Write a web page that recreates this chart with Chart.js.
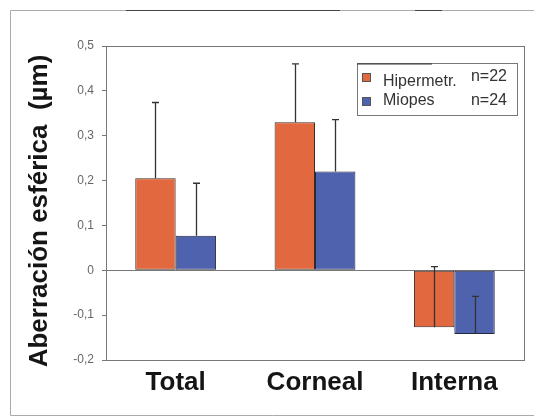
<!DOCTYPE html>
<html>
<head>
<meta charset="utf-8">
<script src="https://cdn.jsdelivr.net/npm/chart.js@4/dist/chart.umd.min.js"></script>
<style>
  html, body { margin: 0; padding: 0; background: #fff; }
  #wrap { width: 534px; height: 417px; position: relative; }
</style>
</head>
<body>
<div id="wrap"><canvas id="c" width="534" height="417"></canvas></div>
<script>
// ---- data ----
const categories = ['Total', 'Corneal', 'Interna'];
const seriesLabels = ['Hipermetr.', 'Miopes'];
const seriesN = ['n=22', 'n=24'];
const hiperValues = [0.205, 0.33, -0.127];
const hiperErrors = [0.169, 0.13, 0.135];
const miopesValues = [0.077, 0.22, -0.142];
const miopesErrors = [0.117, 0.116, 0.084];
const yTickValues = [-0.2, -0.1, 0, 0.1, 0.2, 0.3, 0.4, 0.5];
const yTickLabels = ['-0,2', '-0,1', '0', '0,1', '0,2', '0,3', '0,4', '0,5'];
const yTitle = 'Aberración esférica  (µm)';

const colors = ['#E2683F', '#4F62AE'];
const FONT = '"Liberation Sans", Arial, sans-serif';

const errorsBySeries = [hiperErrors, miopesErrors];

const frameAndBg = {
  id: 'frameAndBg',
  beforeDraw(chart) {
    const ctx = chart.ctx;
    ctx.save();
    ctx.fillStyle = '#fff';
    ctx.fillRect(0, 0, chart.width, chart.height);
    ctx.strokeStyle = '#aaa';
    ctx.lineWidth = 1;
    ctx.beginPath();
    ctx.moveTo(534, 10.5); ctx.lineTo(10.5, 10.5); ctx.lineTo(10.5, 415.5); ctx.lineTo(534, 415.5);
    ctx.stroke();
    ctx.strokeStyle = '#444';
    ctx.beginPath();
    ctx.moveTo(126, 10.5); ctx.lineTo(340, 10.5);
    ctx.moveTo(415, 10.5); ctx.lineTo(442, 10.5);
    ctx.stroke();
    ctx.restore();
  },
  afterDraw(chart) {
    const ctx = chart.ctx;
    const a = chart.chartArea;
    ctx.save();
    ctx.strokeStyle = '#777';
    ctx.lineWidth = 1;
    ctx.strokeRect(Math.round(a.left) + 0.5, Math.round(a.top) + 0.5,
                   Math.round(a.right - a.left), Math.round(a.bottom - a.top));
    // y title
    ctx.translate(40, 211);
    ctx.rotate(-Math.PI / 2);
    ctx.fillStyle = '#151515';
    ctx.font = 'bold 26px ' + FONT;
    ctx.textAlign = 'center';
    ctx.textBaseline = 'middle';
    ctx.fillText(yTitle, 0, 0);
    ctx.restore();

    // legend
    ctx.save();
    const bx = 357, by = 63, bw = 160, bh = 52;
    ctx.fillStyle = '#fff';
    ctx.fillRect(bx, by, bw, bh);
    ctx.strokeStyle = '#777';
    ctx.lineWidth = 1;
    ctx.strokeRect(bx + 0.5, by + 0.5, bw, bh);
    ctx.strokeStyle = '#333';
    ctx.beginPath(); ctx.moveTo(bx, by + 1); ctx.lineTo(bx + 75, by + 1); ctx.stroke();
    ctx.font = '16px ' + FONT;
    ctx.textBaseline = 'middle';
    const rows = [{sy: 73, ty: 82, ny: 77}, {sy: 97, ty: 101, ny: 101}];
    chart.data.datasets.forEach((ds, i) => {
      const r = rows[i];
      ctx.fillStyle = ds.backgroundColor;
      ctx.fillRect(362, r.sy, 9, 9);
      ctx.strokeStyle = '#555';
      ctx.strokeRect(362.5, r.sy + 0.5, 8, 8);
      ctx.fillStyle = '#333';
      ctx.textAlign = 'left';
      ctx.fillText(ds.label, 383, r.ty);
      ctx.textAlign = 'right';
      ctx.fillText(seriesN[i], 507, r.ny);
    });
    ctx.restore();
  },
  afterDatasetsDraw(chart) {
    const ctx = chart.ctx;
    const ys = chart.scales.y;
    ctx.save();
    ctx.strokeStyle = '#333';
    ctx.lineWidth = 1.3;
    chart.data.datasets.forEach((ds, di) => {
      const meta = chart.getDatasetMeta(di);
      meta.data.forEach((el, i) => {
        const v = ds.data[i];
        const e = errorsBySeries[di][i];
        const x = Math.round(el.x) + 0.5;
        const y0 = ys.getPixelForValue(v);
        const y1 = ys.getPixelForValue(v + e);
        ctx.beginPath();
        ctx.moveTo(x, y0); ctx.lineTo(x, y1);
        ctx.moveTo(x - 3.5, y1); ctx.lineTo(x + 3.5, y1);
        ctx.stroke();
      });
    });
    ctx.restore();
  }
};

new Chart(document.getElementById('c'), {
  type: 'bar',
  data: {
    labels: categories,
    datasets: [
      { label: seriesLabels[0], data: hiperValues, backgroundColor: colors[0],
        borderColor: '#3a2a26', borderWidth: 1, borderSkipped: false },
      { label: seriesLabels[1], data: miopesValues, backgroundColor: colors[1],
        borderColor: '#262840', borderWidth: 1, borderSkipped: false }
    ]
  },
  options: {
    responsive: false,
    animation: false,
    devicePixelRatio: 1,
    layout: { padding: { left: 24, right: 10, top: 46, bottom: 0 } },
    datasets: { bar: { barPercentage: 1.0, categoryPercentage: 0.58 } },
    plugins: { legend: { display: false }, tooltip: { enabled: false }, title: { display: false } },
    scales: {
      x: {
        grid: { display: false, drawTicks: false },
        border: { display: false },
        ticks: { color: '#151515', font: { family: FONT, size: 26, weight: 'bold' }, padding: 7 },
        afterFit(s) { s.height = 57; }
      },
      y: {
        min: -0.2, max: 0.5,
        afterBuildTicks(s) { s.ticks = yTickValues.map(v => ({ value: v })); },
        ticks: {
          color: '#666', font: { family: FONT, size: 12 }, padding: 8,
          callback(value) {
            const i = yTickValues.findIndex(t => Math.abs(t - value) < 1e-9);
            return i >= 0 ? yTickLabels[i] : '';
          }
        },
        grid: {
          color: c => (c.tick && Math.abs(c.tick.value) < 1e-9) ? '#777' : 'rgba(0,0,0,0)',
          tickColor: '#777', tickLength: 4, drawTicks: true
        },
        border: { display: true, color: '#777' },
        afterFit(s) { s.width = 82; }
      }
    }
  },
  plugins: [frameAndBg]
});
</script>
</body>
</html>
